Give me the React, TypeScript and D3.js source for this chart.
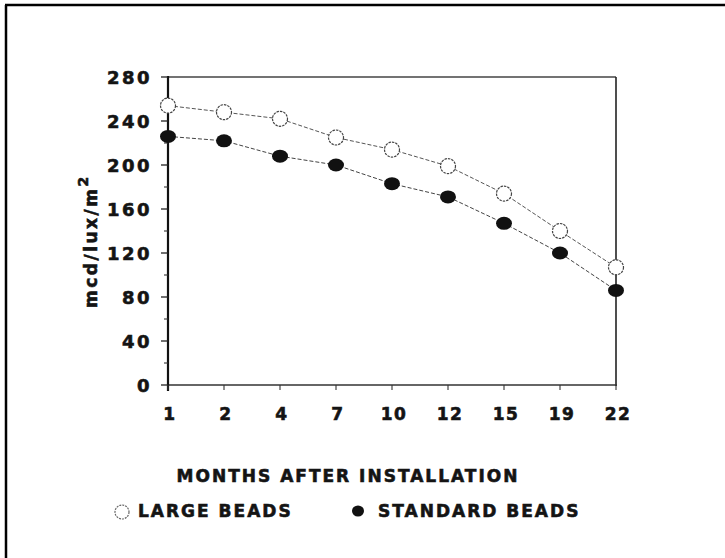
import React from "react";
import * as d3 from "d3";

const months = ["1", "2", "4", "7", "10", "12", "15", "19", "22"];
const largeBeads = [254, 248, 242, 225, 214, 199, 174, 140, 107];
const standardBeads = [226, 222, 208, 200, 183, 171, 147, 120, 86];
const yTicks = [0, 40, 80, 120, 160, 200, 240, 280];
const yMinorTicks = [20, 60, 100, 140, 180, 220, 260];

const W = 725;
const H = 558;
const FONT = "'DejaVu Sans', Arial, sans-serif";
const INK = "#141414";
const heavy = { stroke: INK, strokeWidth: 0.6 };

export default function App() {
  const x = d3.scalePoint<string>().domain(months).range([168, 616]);
  const y = d3.scaleLinear().domain([0, 280]).range([385, 77]);
  const line = d3
    .line<number>()
    .x((_, i) => x(months[i]) as number)
    .y((d) => y(d));

  return (
    <svg
      width={W}
      height={H}
      style={{ position: "absolute", left: 0, top: 0, background: "#fff" }}
    >
      <rect x={0} y={0} width={W} height={H} fill="#fff" />
      {/* outer frame (left and top) */}
      <line x1={6} y1={5} x2={6} y2={H} stroke="#000" strokeWidth={2.5} />
      <line x1={5} y1={5} x2={W} y2={5} stroke="#000" strokeWidth={2.5} />

      {/* plot frame */}
      <line x1={168} y1={77} x2={616} y2={77} stroke="#444" strokeWidth={1.3} />
      <line x1={616} y1={77} x2={616} y2={386} stroke="#222" strokeWidth={1.6} />
      <line x1={167} y1={385} x2={617} y2={385} stroke="#333" strokeWidth={1.5} />
      <line x1={168} y1={76} x2={168} y2={391} stroke="#111" strokeWidth={2.2} />

      {/* y ticks */}
      {yTicks.map((t) => (
        <g key={"yt" + t}>
          <line x1={161} y1={y(t)} x2={168} y2={y(t)} stroke="#222" strokeWidth={1.3} />
          <text
            x={152}
            y={y(t) + 6.5}
            textAnchor="end"
            fontFamily={FONT}
            fontWeight="bold"
            fontSize={18}
            letterSpacing={2.5}
            fill={INK}
            {...heavy}
          >
            {t}
          </text>
        </g>
      ))}
      {yMinorTicks.map((t) => (
        <line key={"ym" + t} x1={164} y1={y(t)} x2={168} y2={y(t)} stroke="#333" strokeWidth={1.1} />
      ))}

      {/* x ticks */}
      {months.map((m) => (
        <g key={"xt" + m}>
          <line
            x1={x(m) as number}
            y1={385}
            x2={x(m) as number}
            y2={390}
            stroke="#333"
            strokeWidth={1.1}
          />
          <text
            x={(x(m) as number) + 2}
            y={420}
            textAnchor="middle"
            fontFamily={FONT}
            fontWeight="bold"
            fontSize={17}
            letterSpacing={1.5}
            fill={INK}
            {...heavy}
          >
            {m}
          </text>
        </g>
      ))}

      {/* y axis label */}
      <text
        transform="translate(97,308) rotate(-90)"
        fontFamily={FONT}
        fontWeight="bold"
        fontSize={17}
        letterSpacing={2.5}
        fill={INK}
        {...heavy}
      >
        mcd/lux/m
        <tspan fontSize={14} dy={-9}>
          2
        </tspan>
      </text>

      {/* series lines */}
      <path
        d={line(largeBeads) || ""}
        fill="none"
        stroke="#555"
        strokeWidth={1}
        strokeDasharray="4,2"
      />
      <path
        d={line(standardBeads) || ""}
        fill="none"
        stroke="#444"
        strokeWidth={1}
        strokeDasharray="4,2"
      />

      {/* markers */}
      {largeBeads.map((v, i) => (
        <circle
          key={"l" + i}
          cx={x(months[i]) as number}
          cy={y(v)}
          r={7.5}
          fill="#fff"
          stroke="#444"
          strokeWidth={1.2}
          strokeDasharray="2.5,1"
        />
      ))}
      {standardBeads.map((v, i) => (
        <ellipse
          key={"s" + i}
          cx={x(months[i]) as number}
          cy={y(v)}
          rx={8}
          ry={6.5}
          fill="#111"
        />
      ))}

      {/* x axis title */}
      <text
        x={348}
        y={482}
        textAnchor="middle"
        fontFamily={FONT}
        fontWeight="bold"
        fontSize={17}
        letterSpacing={2}
        fill={INK}
        {...heavy}
      >
        MONTHS AFTER INSTALLATION
      </text>

      {/* legend */}
      <circle
        cx={122}
        cy={512}
        r={7}
        fill="#fff"
        stroke="#666"
        strokeWidth={1.2}
        strokeDasharray="2,1"
      />
      <text
        x={138}
        y={517}
        fontFamily={FONT}
        fontWeight="bold"
        fontSize={17}
        letterSpacing={2}
        fill={INK}
        {...heavy}
      >
        LARGE BEADS
      </text>
      <ellipse cx={358} cy={511} rx={6} ry={5.5} fill="#111" />
      <text
        x={378}
        y={517}
        fontFamily={FONT}
        fontWeight="bold"
        fontSize={17}
        letterSpacing={2}
        fill={INK}
        {...heavy}
      >
        STANDARD BEADS
      </text>
    </svg>
  );
}
